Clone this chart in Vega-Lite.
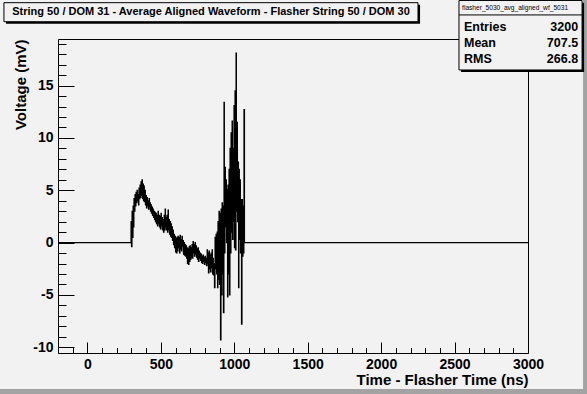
{
  "$schema": "https://vega.github.io/schema/vega-lite/v6.json",
  "autosize": "none",
  "width": 470,
  "height": 314,
  "padding": {"left": 58, "top": 39, "right": 59, "bottom": 41},
  "background": "#f2f2f2",
  "config": {
    "font": "Liberation Sans",
    "view": {"stroke": "black", "strokeWidth": 1, "fill": "#f2f2f2"}
  },
  "layer": [
    {
      "data": {"values": [
        {"t":-200,"v":0},{"t":290,"v":0},
        {"t":297,"v":2.0},{"t":300,"v":-0.4},
        {"t":304,"v":3.0},{"t":307,"v":0.5},
        {"t":311,"v":3.5},{"t":314,"v":1.5},
        {"t":317,"v":4.2},{"t":320,"v":3.0},
        {"t":324,"v":4.6},{"t":327,"v":3.5},
        {"t":331,"v":4.8},{"t":334,"v":3.8},
        {"t":338,"v":5.0},{"t":341,"v":4.0},
        {"t":345,"v":4.6},{"t":348,"v":3.6},
        {"t":351,"v":5.2},{"t":354,"v":4.2},
        {"t":358,"v":5.5},{"t":361,"v":4.3},
        {"t":365,"v":5.8},{"t":368,"v":4.5},
        {"t":372,"v":6.0},{"t":375,"v":4.2},
        {"t":379,"v":5.6},{"t":382,"v":4.0},
        {"t":385,"v":5.4},{"t":388,"v":3.9},
        {"t":392,"v":5.0},{"t":395,"v":3.6},
        {"t":399,"v":4.5},{"t":402,"v":3.3},
        {"t":406,"v":4.3},{"t":409,"v":3.5},
        {"t":413,"v":4.0},{"t":416,"v":3.2},
        {"t":420,"v":4.2},{"t":423,"v":3.4},
        {"t":426,"v":3.8},{"t":429,"v":3.0},
        {"t":433,"v":3.6},{"t":436,"v":2.8},
        {"t":440,"v":3.4},{"t":443,"v":2.6},
        {"t":447,"v":3.2},{"t":450,"v":2.4},
        {"t":454,"v":3.0},{"t":457,"v":2.2},
        {"t":460,"v":2.9},{"t":463,"v":2.0},
        {"t":467,"v":2.8},{"t":470,"v":1.8},
        {"t":474,"v":2.6},{"t":477,"v":1.6},
        {"t":481,"v":3.0},{"t":484,"v":1.8},
        {"t":488,"v":2.6},{"t":491,"v":1.5},
        {"t":494,"v":2.5},{"t":497,"v":1.3},
        {"t":501,"v":2.8},{"t":504,"v":1.6},
        {"t":508,"v":2.4},{"t":511,"v":1.2},
        {"t":515,"v":2.2},{"t":518,"v":1.0},
        {"t":522,"v":2.6},{"t":525,"v":1.2},
        {"t":529,"v":3.2},{"t":532,"v":1.5},
        {"t":535,"v":2.4},{"t":538,"v":1.2},
        {"t":542,"v":2.6},{"t":545,"v":1.0},
        {"t":549,"v":3.1},{"t":552,"v":1.2},
        {"t":556,"v":2.2},{"t":559,"v":0.8},
        {"t":563,"v":2.0},{"t":566,"v":0.6},
        {"t":569,"v":1.8},{"t":572,"v":0.5},
        {"t":576,"v":1.5},{"t":579,"v":0.2},
        {"t":583,"v":1.2},{"t":586,"v":-0.2},
        {"t":590,"v":0.8},{"t":593,"v":-0.5},
        {"t":597,"v":0.6},{"t":600,"v":-0.9},
        {"t":603,"v":0.4},{"t":606,"v":-1.0},
        {"t":610,"v":0.5},{"t":613,"v":-0.8},
        {"t":617,"v":0.6},{"t":620,"v":-0.5},
        {"t":624,"v":0.5},{"t":627,"v":-1.0},
        {"t":631,"v":0.7},{"t":634,"v":-0.6},
        {"t":638,"v":0.3},{"t":641,"v":-0.8},
        {"t":644,"v":0.6},{"t":647,"v":-0.4},
        {"t":651,"v":0.2},{"t":654,"v":-1.1},
        {"t":658,"v":0.0},{"t":661,"v":-1.2},
        {"t":665,"v":-0.2},{"t":668,"v":-1.3},
        {"t":672,"v":-0.3},{"t":675,"v":-1.5},
        {"t":678,"v":-0.5},{"t":681,"v":-2.0},
        {"t":685,"v":-0.6},{"t":688,"v":-2.1},
        {"t":692,"v":-0.4},{"t":695,"v":-1.8},
        {"t":699,"v":-0.3},{"t":702,"v":-1.6},
        {"t":706,"v":-0.5},{"t":709,"v":-1.4},
        {"t":712,"v":-0.2},{"t":715,"v":-1.5},
        {"t":719,"v":0.1},{"t":722,"v":-1.0},
        {"t":726,"v":-0.2},{"t":729,"v":-1.3},
        {"t":733,"v":0.0},{"t":736,"v":-1.1},
        {"t":740,"v":-0.3},{"t":743,"v":-1.4},
        {"t":746,"v":-0.6},{"t":749,"v":-1.6},
        {"t":753,"v":-0.5},{"t":756,"v":-1.8},
        {"t":760,"v":-0.8},{"t":763,"v":-1.5},
        {"t":767,"v":-1.0},{"t":770,"v":-1.7},
        {"t":774,"v":-1.1},{"t":777,"v":-1.9},
        {"t":780,"v":-1.3},{"t":783,"v":-2.0},
        {"t":787,"v":-1.2},{"t":790,"v":-1.8},
        {"t":794,"v":-1.4},{"t":797,"v":-2.1},
        {"t":801,"v":-1.3},{"t":804,"v":-1.9},
        {"t":808,"v":-1.5},{"t":811,"v":-2.2},
        {"t":815,"v":-0.7},{"t":818,"v":-2.0},
        {"t":821,"v":-1.0},{"t":824,"v":-2.9},
        {"t":828,"v":-0.8},{"t":831,"v":-2.5},
        {"t":835,"v":-1.2},{"t":838,"v":-2.8},
        {"t":842,"v":-1.0},{"t":845,"v":-2.4},
        {"t":849,"v":-0.7},{"t":852,"v":-3.0},
        {"t":855,"v":-1.5},{"t":858,"v":-3.1},
        {"t":862,"v":-2.0},{"t":865,"v":-4.3},
        {"t":869,"v":0.5},{"t":872,"v":-2.5},
        {"t":876,"v":0.8},{"t":879,"v":-3.0},
        {"t":883,"v":1.0},{"t":886,"v":-4.3},
        {"t":889,"v":2.0},{"t":892,"v":-3.5},
        {"t":896,"v":3.0},{"t":899,"v":-4.0},
        {"t":903,"v":2.8},{"t":906,"v":-9.3},
        {"t":910,"v":3.2},{"t":913,"v":-5.0},
        {"t":917,"v":3.8},{"t":920,"v":-3.0},
        {"t":923,"v":3.5},{"t":926,"v":-6.7},
        {"t":930,"v":13.4},{"t":933,"v":-1.0},
        {"t":937,"v":7.2},{"t":940,"v":1.5},
        {"t":944,"v":6.0},{"t":947,"v":0.0},
        {"t":951,"v":5.1},{"t":954,"v":-5.2},
        {"t":957,"v":5.5},{"t":960,"v":-3.0},
        {"t":964,"v":7.0},{"t":967,"v":-5.0},
        {"t":971,"v":9.0},{"t":974,"v":-1.0},
        {"t":978,"v":10.5},{"t":981,"v":1.0},
        {"t":985,"v":11.6},{"t":988,"v":0.3},
        {"t":992,"v":9.0},{"t":995,"v":2.0},
        {"t":998,"v":13.1},{"t":1001,"v":-0.5},
        {"t":1005,"v":14.5},{"t":1008,"v":-0.7},
        {"t":1012,"v":18.1},{"t":1015,"v":3.0},
        {"t":1019,"v":11.5},{"t":1022,"v":2.0},
        {"t":1026,"v":7.7},{"t":1029,"v":-4.3},
        {"t":1032,"v":7.0},{"t":1035,"v":0.3},
        {"t":1039,"v":6.0},{"t":1042,"v":-1.0},
        {"t":1046,"v":4.1},{"t":1049,"v":-7.8},
        {"t":1053,"v":4.1},{"t":1056,"v":-1.3},
        {"t":1060,"v":3.5},{"t":1063,"v":-1.0},
        {"t":1066,"v":12.7},{"t":1070,"v":0.0},
        {"t":1073,"v":0},{"t":3000,"v":0}
      ]},
      "mark": {"type": "line", "interpolate": "step-after", "color": "black", "strokeWidth": 1.1},
      "encoding": {
        "x": {
          "field": "t", "type": "quantitative",
          "scale": {"domain": [-200, 3000], "nice": false, "zero": false},
          "axis": {
            "title": "Time - Flasher Time (ns)",
            "values": [-200,-100,0,100,200,300,400,500,600,700,800,900,1000,1100,1200,1300,1400,1500,1600,1700,1800,1900,2000,2100,2200,2300,2400,2500,2600,2700,2800,2900,3000],
            "tickCount": 200,
            "labelExpr": "datum.value % 500 === 0 ? '' + datum.value : ''",
            "tickSize": {"condition": {"test": "datum.value % 500 === 0", "value": -11}, "value": -5.5},
            "tickColor": "black",
            "tickWidth": 1,
            "domain": false,
            "grid": false,
            "labelPadding": 15,
            "labelFlush": false,
            "labelOverlap": false,
            "labelFont": "Liberation Sans",
            "labelFontWeight": "bold",
            "labelFontSize": 14,
            "labelColor": "black",
            "titleFont": "Liberation Sans",
            "titleFontWeight": "bold",
            "titleFontSize": 15,
            "titleColor": "black",
            "titleAnchor": "end",
            "titlePadding": -4
          }
        },
        "y": {
          "field": "v", "type": "quantitative",
          "scale": {"domain": [-10.55, 19.45], "nice": false, "zero": false},
          "axis": {
            "title": "Voltage (mV)",
            "values": [-10,-9,-8,-7,-6,-5,-4,-3,-2,-1,0,1,2,3,4,5,6,7,8,9,10,11,12,13,14,15,16,17,18,19],
            "tickCount": 200,
            "labelExpr": "datum.value % 5 === 0 ? '' + datum.value : ''",
            "tickSize": {"condition": {"test": "datum.value % 5 === 0", "value": -16}, "value": -8},
            "tickColor": "black",
            "tickWidth": 1,
            "domain": false,
            "grid": false,
            "labelPadding": 21,
            "labelFlush": false,
            "labelOverlap": false,
            "labelFont": "Liberation Sans",
            "labelFontWeight": "bold",
            "labelFontSize": 14,
            "labelColor": "black",
            "titleFont": "Liberation Sans",
            "titleFontWeight": "bold",
            "titleFontSize": 15,
            "titleColor": "black",
            "titleAnchor": "end",
            "titlePadding": 4
          }
        }
      }
    },
    {
      "data": {"values": [{}]},
      "mark": {"type": "rect", "fill": "#a3a3a3"},
      "encoding": {"x": {"datum": 3375}, "x2": {"datum": 3410}, "y": {"datum": 23.3}, "y2": {"datum": -14.6}}
    },
    {
      "data": {"values": [{}]},
      "mark": {"type": "rect", "fill": "#a3a3a3"},
      "encoding": {"x": {"datum": -602}, "x2": {"datum": 3410}, "y": {"datum": -14.0}, "y2": {"datum": -14.6}}
    },
    {
      "data": {"values": [{}]},
      "mark": {"type": "rect", "fill": "black"},
      "encoding": {"x": {"datum": -554}, "x2": {"datum": 2265}, "y": {"datum": 22.73}, "y2": {"datum": 20.91}}
    },
    {
      "data": {"values": [{}]},
      "mark": {"type": "rect", "fill": "#f2f2f2", "stroke": "black", "strokeWidth": 1},
      "encoding": {"x": {"datum": -568}, "x2": {"datum": 2251}, "y": {"datum": 22.92}, "y2": {"datum": 21.10}}
    },
    {
      "data": {"values": [{}]},
      "mark": {"type": "text", "text": "String 50 / DOM 31 - Average Aligned Waveform - Flasher String 50 / DOM 30", "font": "Liberation Sans", "fontWeight": "bold", "fontSize": 11, "align": "center", "baseline": "middle", "color": "black"},
      "encoding": {"x": {"datum": 842}, "y": {"datum": 22.0}}
    },
    {
      "data": {"values": [{}]},
      "mark": {"type": "rect", "fill": "black"},
      "encoding": {"x": {"datum": 2544}, "x2": {"datum": 3382}, "y": {"datum": 22.92}, "y2": {"datum": 16.3}}
    },
    {
      "data": {"values": [{}]},
      "mark": {"type": "rect", "fill": "#f2f2f2", "stroke": "black", "strokeWidth": 1},
      "encoding": {"x": {"datum": 2530}, "x2": {"datum": 3368}, "y": {"datum": 23.13}, "y2": {"datum": 16.49}}
    },
    {
      "data": {"values": [{}]},
      "mark": {"type": "rule", "color": "black", "strokeWidth": 1},
      "encoding": {"x": {"datum": 2530}, "x2": {"datum": 3368}, "y": {"datum": 21.75}}
    },
    {
      "data": {"values": [{}]},
      "mark": {"type": "text", "text": "flasher_5030_avg_aligned_wf_5031", "font": "Liberation Sans", "fontSize": 6.6, "align": "center", "baseline": "middle", "color": "black"},
      "encoding": {"x": {"datum": 2912}, "y": {"datum": 22.38}}
    },
    {
      "data": {"values": [{}]},
      "mark": {"type": "text", "text": "Entries", "font": "Liberation Sans", "fontWeight": "bold", "fontSize": 12.5, "align": "left", "baseline": "middle", "color": "black"},
      "encoding": {"x": {"datum": 2564}, "y": {"datum": 20.63}}
    },
    {
      "data": {"values": [{}]},
      "mark": {"type": "text", "text": "Mean", "font": "Liberation Sans", "fontWeight": "bold", "fontSize": 12.5, "align": "left", "baseline": "middle", "color": "black"},
      "encoding": {"x": {"datum": 2564}, "y": {"datum": 19.10}}
    },
    {
      "data": {"values": [{}]},
      "mark": {"type": "text", "text": "RMS", "font": "Liberation Sans", "fontWeight": "bold", "fontSize": 12.5, "align": "left", "baseline": "middle", "color": "black"},
      "encoding": {"x": {"datum": 2564}, "y": {"datum": 17.51}}
    },
    {
      "data": {"values": [{}]},
      "mark": {"type": "text", "text": "3200", "font": "Liberation Sans", "fontWeight": "bold", "fontSize": 12.5, "align": "right", "baseline": "middle", "color": "black"},
      "encoding": {"x": {"datum": 3341}, "y": {"datum": 20.63}}
    },
    {
      "data": {"values": [{}]},
      "mark": {"type": "text", "text": "707.5", "font": "Liberation Sans", "fontWeight": "bold", "fontSize": 12.5, "align": "right", "baseline": "middle", "color": "black"},
      "encoding": {"x": {"datum": 3341}, "y": {"datum": 19.10}}
    },
    {
      "data": {"values": [{}]},
      "mark": {"type": "text", "text": "266.8", "font": "Liberation Sans", "fontWeight": "bold", "fontSize": 12.5, "align": "right", "baseline": "middle", "color": "black"},
      "encoding": {"x": {"datum": 3341}, "y": {"datum": 17.51}}
    }
  ]
}
